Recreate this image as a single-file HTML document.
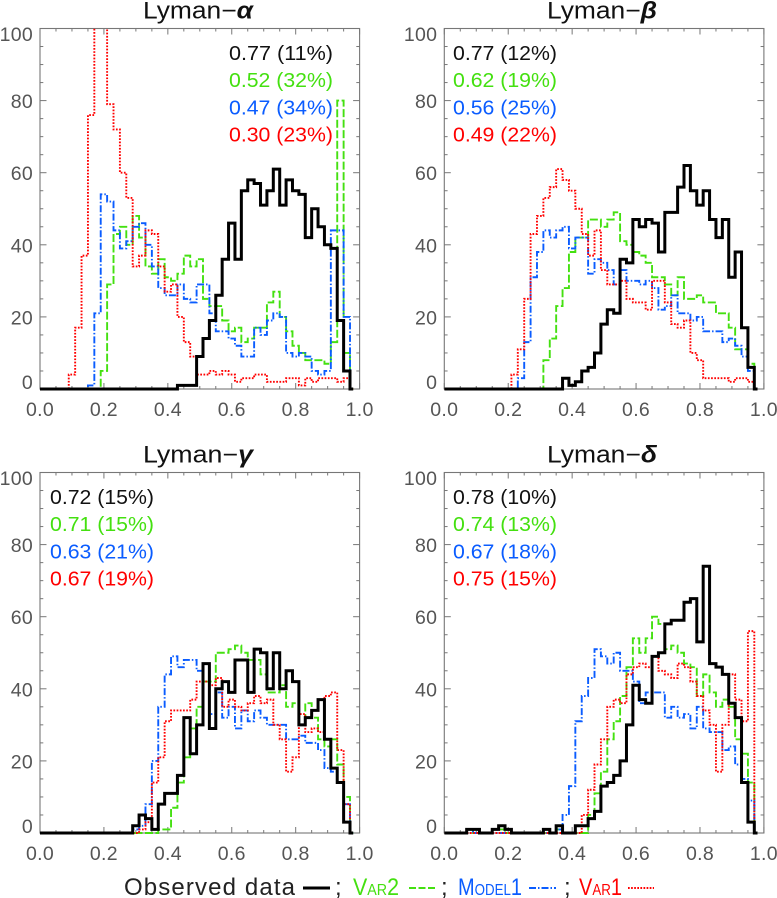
<!DOCTYPE html>
<html lang="en">
<head>
<meta charset="utf-8">
<title>Lyman series histograms</title>
<style>
html,body{margin:0;padding:0;background:#fff;width:777px;height:898px;overflow:hidden}
svg{display:block}
text{font-family:"Liberation Sans",sans-serif}
</style>
</head>
<body>
<svg id="chart" width="777" height="898" viewBox="0 0 777 898" xmlns="http://www.w3.org/2000/svg">
  <text x="124" y="895" font-size="24" fill="#222" textLength="171" lengthAdjust="spacing">Observed data</text>
  <line x1="303" x2="330" y1="888" y2="888" stroke="#000" stroke-width="3"/>
  <text x="335" y="895" font-size="24" fill="#222">;</text>
  <text x="353" y="895" font-size="24" fill="#44e010" textLength="46" lengthAdjust="spacingAndGlyphs">V<tspan font-size="16">AR</tspan>2</text>
  <line x1="409" x2="437" y1="888" y2="888" stroke="#44e010" stroke-width="1.9" stroke-dasharray="7 2.5"/>
  <text x="441" y="895" font-size="24" fill="#222">;</text>
  <text x="458" y="895" font-size="24" fill="#0a5cff" textLength="64" lengthAdjust="spacingAndGlyphs">M<tspan font-size="16">ODEL</tspan>1</text>
  <line x1="529" x2="556" y1="888" y2="888" stroke="#0a5cff" stroke-width="1.9" stroke-dasharray="7 2 1.5 2"/>
  <text x="564" y="895" font-size="24" fill="#222">;</text>
  <text x="579" y="895" font-size="24" fill="#ff0000" textLength="43" lengthAdjust="spacingAndGlyphs">V<tspan font-size="16">AR</tspan>1</text>
  <line x1="628" x2="654" y1="888" y2="888" stroke="#ff0000" stroke-width="1.9" stroke-dasharray="1.7 1.4"/>
</svg>
<script>
var xTickValues = [0, 0.2, 0.4, 0.6, 0.8, 1.0];
var xTickLabels = ['0.0', '0.2', '0.4', '0.6', '0.8', '1.0'];
var yTickValues = [0, 20, 40, 60, 80, 100];
var yTickLabels = ['0', '20', '40', '60', '80', '100'];

var alphaObserved = [
  0,0,0,0,0,0,0,0,0,0,
  0,0,0,0,0,0,0,0,0,0,
  0,0,1,1,1,9,14,19,26,36,
  46,36,55,58,57,51,55,61,51,58,
  55,54,42,50,45,40,39,19,5,0];
var alphaVar2 = [
  0,0,0,0,0,0,0,0,0,0,
  5,29,43,45,40,48,42,34,32,36,
  31,30,32,37,34,36,25,23,23,19,
  16,17,13,14,17,17,24,27,20,16,
  12,10,8,8,8,7,13,80,10,0];
var alphaModel1 = [
  0,0,0,0,0,0,0,0,1,21,
  54,52,44,39,41,45,46,40,34,28,
  26,26,29,25,24,29,29,21,16,16,
  14,12,9,9,17,15,19,21,20,10,
  9,10,9,5,4,5,44,44,20,0];
var alphaVar1 = [
  0,0,0,0,0,4,17,37,76,120,
  120,79,72,60,53,34,37,44,43,34,
  27,29,20,13,9,4,4,5,4,5,
  4,2,3,3,4,4,2,2,2,3,
  3,1,3,2,3,3,3,2,3,0];

var betaObserved = [
  0,0,0,0,0,0,0,0,0,0,
  0,0,0,0,0,0,0,0,0,3,
  1,2,5,6,10,18,22,21,36,35,
  47,45,47,46,38,49,49,56,62,55,
  51,55,47,42,47,31,38,17,6,0];
var betaVar2 = [
  0,0,0,0,0,0,0,0,0,0,
  0,0,0,0,0,0,8,14,23,28,
  38,42,42,47,47,45,47,49,41,40,
  38,37,35,31,31,29,26,31,25,25,
  26,24,24,21,21,17,11,11,7,0];
var betaModel1 = [
  0,0,0,0,0,0,0,0,0,0,
  0,0,3,13,31,38,44,42,44,45,
  39,42,42,32,36,35,33,29,33,30,
  30,29,30,28,22,23,26,21,21,19,
  20,16,16,16,13,14,12,9,5,0];
var betaVar1 = [
  0,0,0,0,0,0,0,0,0,0,
  0,4,11,25,43,48,53,56,61,58,
  55,50,43,37,44,33,29,29,30,25,
  24,24,22,30,30,24,18,17,19,10,
  8,3,3,3,3,2,3,3,2,0];

var gammaObserved = [
  0,0,0,0,0,0,0,0,0,0,
  0,0,0,0,0,2,5,4,1,8,
  11,11,16,32,22,30,47,29,40,42,
  39,48,48,39,51,50,40,50,40,45,
  42,30,32,34,37,26,18,14,3,0];
var gammaVar2 = [
  0,0,0,0,0,0,0,0,0,0,
  0,0,0,0,0,0,0,0,0,1,
  1,7,14,21,29,35,42,42,50,50,
  51,52,50,48,48,44,39,39,41,35,
  36,30,36,32,26,24,26,19,10,0];
var gammaModel1 = [
  0,0,0,0,0,0,0,0,0,0,
  0,0,0,0,0,1,2,8,20,35,
  44,49,46,48,48,45,47,33,39,32,
  35,29,34,31,34,32,30,30,30,26,
  26,27,25,25,23,18,17,14,8,0];
var gammaVar1 = [
  0,0,0,0,0,0,0,0,0,0,
  0,0,0,0,0,0,1,3,14,21,
  31,34,34,34,37,42,42,41,43,35,
  37,35,34,36,38,36,37,30,26,17,
  21,33,28,29,28,38,39,23,8,0];

var deltaObserved = [
  0,0,0,0,1,1,0,0,1,2,
  1,0,0,0,0,0,1,0,2,0,
  0,2,2,4,6,13,14,16,20,30,
  41,37,36,49,50,58,59,59,64,65,
  53,74,47,46,44,36,32,14,3,0];
var deltaVar2 = [
  0,0,0,0,1,0,0,0,1,1,
  0,0,0,0,0,0,0,0,1,0,
  0,0,0,5,11,17,26,31,38,46,
  54,50,54,60,58,51,52,50,47,46,
  38,44,39,35,37,35,26,22,14,0];
var deltaModel1 = [
  0,0,0,0,1,0,0,0,0,0,
  0,0,0,0,0,0,0,0,1,5,
  13,31,38,43,51,49,47,50,45,45,
  42,36,39,39,39,32,35,32,33,29,
  35,29,28,28,23,24,19,15,9,0];
var deltaVar1 = [
  0,0,0,0,0,0,0,0,0,0,
  0,0,0,0,0,0,0,0,0,0,
  0,0,5,12,19,26,35,37,36,44,
  46,47,46,49,45,44,43,47,46,42,
  38,34,30,17,30,44,37,31,56,0];

var binWidth = 0.02;
var SVGNS = 'http://www.w3.org/2000/svg';
var svg = document.getElementById('chart');

function make(tag, attrs, parent, txt) {
  var el = document.createElementNS(SVGNS, tag);
  for (var k in attrs) { el.setAttribute(k, attrs[k]); }
  if (txt !== undefined) { el.textContent = txt; }
  parent.appendChild(el);
  return el;
}

function stepPath(values, xf, yf) {
  var d = 'M' + xf(0).toFixed(2) + ' ' + yf(values[0]).toFixed(2);
  for (var i = 1; i < values.length; i++) {
    var edge = xf((i - 0.5) * binWidth);
    d += 'L' + edge.toFixed(2) + ' ' + yf(values[i - 1]).toFixed(2);
    d += 'L' + edge.toFixed(2) + ' ' + yf(values[i]).toFixed(2);
  }
  d += 'L' + xf((values.length - 1) * binWidth).toFixed(2) + ' ' + yf(values[values.length - 1]).toFixed(2);
  return d;
}

function drawPanel(cfg) {
  var left = cfg.left, right = cfg.left + 319.6, top = cfg.top, bottom = cfg.top + 360.5;
  var xf = function (v) { return left + (right - left) * v; };
  var yf = function (v) { return bottom - (bottom - top) * v / 100; };
  var g = make('g', {}, svg);
  
  

  var title = make('text', { x: cfg.titleX, y: top - 10, 'font-size': 24, fill: '#111', textLength: 110, lengthAdjust: 'spacingAndGlyphs' }, g, 'Lyman\u2212');
  
  
  make('tspan', { 'font-weight': 'bold', 'font-style': 'italic' }, title, cfg.greek);

  var frame = make('rect', { x: left, y: top, width: right - left, height: bottom - top, fill: 'none', stroke: '#777', 'stroke-width': 1.1 }, g);
  
  

  var ticks = make('g', { stroke: '#777', 'stroke-width': 1 }, g);
  
  
  var i, v, len;
  for (i = 0; i <= 20; i++) {
    v = i * 0.05;
    len = (i % 4 === 0) ? 6 : 3;
    make('line', { x1: xf(v), x2: xf(v), y1: top, y2: top + len }, ticks);
    make('line', { x1: xf(v), x2: xf(v), y1: bottom, y2: bottom - len }, ticks);
  }
  for (i = 0; i <= 20; i++) {
    v = i * 5;
    len = (i % 4 === 0) ? 6.5 : 3.3;
    make('line', { x1: left, x2: left + len, y1: yf(v), y2: yf(v) }, ticks);
    make('line', { x1: right, x2: right - len, y1: yf(v), y2: yf(v) }, ticks);
  }

  var clipId = 'clip-' + cfg.id;
  var defs = make('defs', {}, g);
  var clip = make('clipPath', { id: clipId }, defs);
  make('rect', { x: left, y: top, width: right - left, height: bottom - top + 4 }, clip);

  var plot = make('g', { 'clip-path': 'url(#' + clipId + ')', fill: 'none' }, g);
  
  

  var p;
  p = make('path', { d: stepPath(cfg.var2, xf, yf), stroke: '#44e010', 'stroke-width': 1.9, 'stroke-dasharray': '8 2.5' }, plot);
  
  
  p = make('path', { d: stepPath(cfg.model1, xf, yf), stroke: '#0a5cff', 'stroke-width': 1.9, 'stroke-dasharray': '7 2 1.5 2' }, plot);
  
  
  p = make('path', { d: stepPath(cfg.var1, xf, yf), stroke: '#ff0000', 'stroke-width': 1.9, 'stroke-dasharray': '1.7 1.5' }, plot);
  
  
  p = make('path', { d: stepPath(cfg.observed, xf, yf), stroke: '#000', 'stroke-width': 3 }, plot);
  
  

  var t;
  xTickValues.forEach(function (val, idx) {
    t = make('text', { x: xf(val), y: bottom + 27, 'font-size': 19.5, fill: '#555', 'text-anchor': 'middle', 'letter-spacing': 0.3 }, g, xTickLabels[idx]);
    
    
  });
  yTickValues.forEach(function (val, idx) {
    var off = val === 0 ? 0 : (val === 100 ? 12.5 : 7.5);
    t = make('text', { x: left - 7, y: yf(val) + off, 'font-size': 19.5, fill: '#555', 'text-anchor': 'end', 'letter-spacing': 0.3 }, g, yTickLabels[idx]);
    
    
  });

  var colors = ['#111', '#44e010', '#0a5cff', '#ff0000'];
  cfg.stats.forEach(function (s, idx) {
    t = make('text', { x: cfg.statX, y: top + 31.5 + idx * 27.2, 'font-size': 20, fill: colors[idx], textLength: 104, lengthAdjust: 'spacingAndGlyphs' }, g, s);
    
    
  });
}

drawPanel({ id: 'alpha', greek: '\u03B1', left: 40, top: 28.5, titleX: 143, statX: 229,
  observed: alphaObserved, var2: alphaVar2, model1: alphaModel1, var1: alphaVar1,
  stats: ['0.77 (11%)', '0.52 (32%)', '0.47 (34%)', '0.30 (23%)'] });
drawPanel({ id: 'beta', greek: '\u03B2', left: 444.3, top: 28.5, titleX: 547, statX: 453,
  observed: betaObserved, var2: betaVar2, model1: betaModel1, var1: betaVar1,
  stats: ['0.77 (12%)', '0.62 (19%)', '0.56 (25%)', '0.49 (22%)'] });
drawPanel({ id: 'gamma', greek: '\u03B3', left: 40, top: 472.5, titleX: 143, statX: 50,
  observed: gammaObserved, var2: gammaVar2, model1: gammaModel1, var1: gammaVar1,
  stats: ['0.72 (15%)', '0.71 (15%)', '0.63 (21%)', '0.67 (19%)'] });
drawPanel({ id: 'delta', greek: '\u03B4', left: 444.3, top: 472.5, titleX: 547, statX: 453,
  observed: deltaObserved, var2: deltaVar2, model1: deltaModel1, var1: deltaVar1,
  stats: ['0.78 (10%)', '0.74 (13%)', '0.67 (18%)', '0.75 (15%)'] });
</script>
</body>
</html>
